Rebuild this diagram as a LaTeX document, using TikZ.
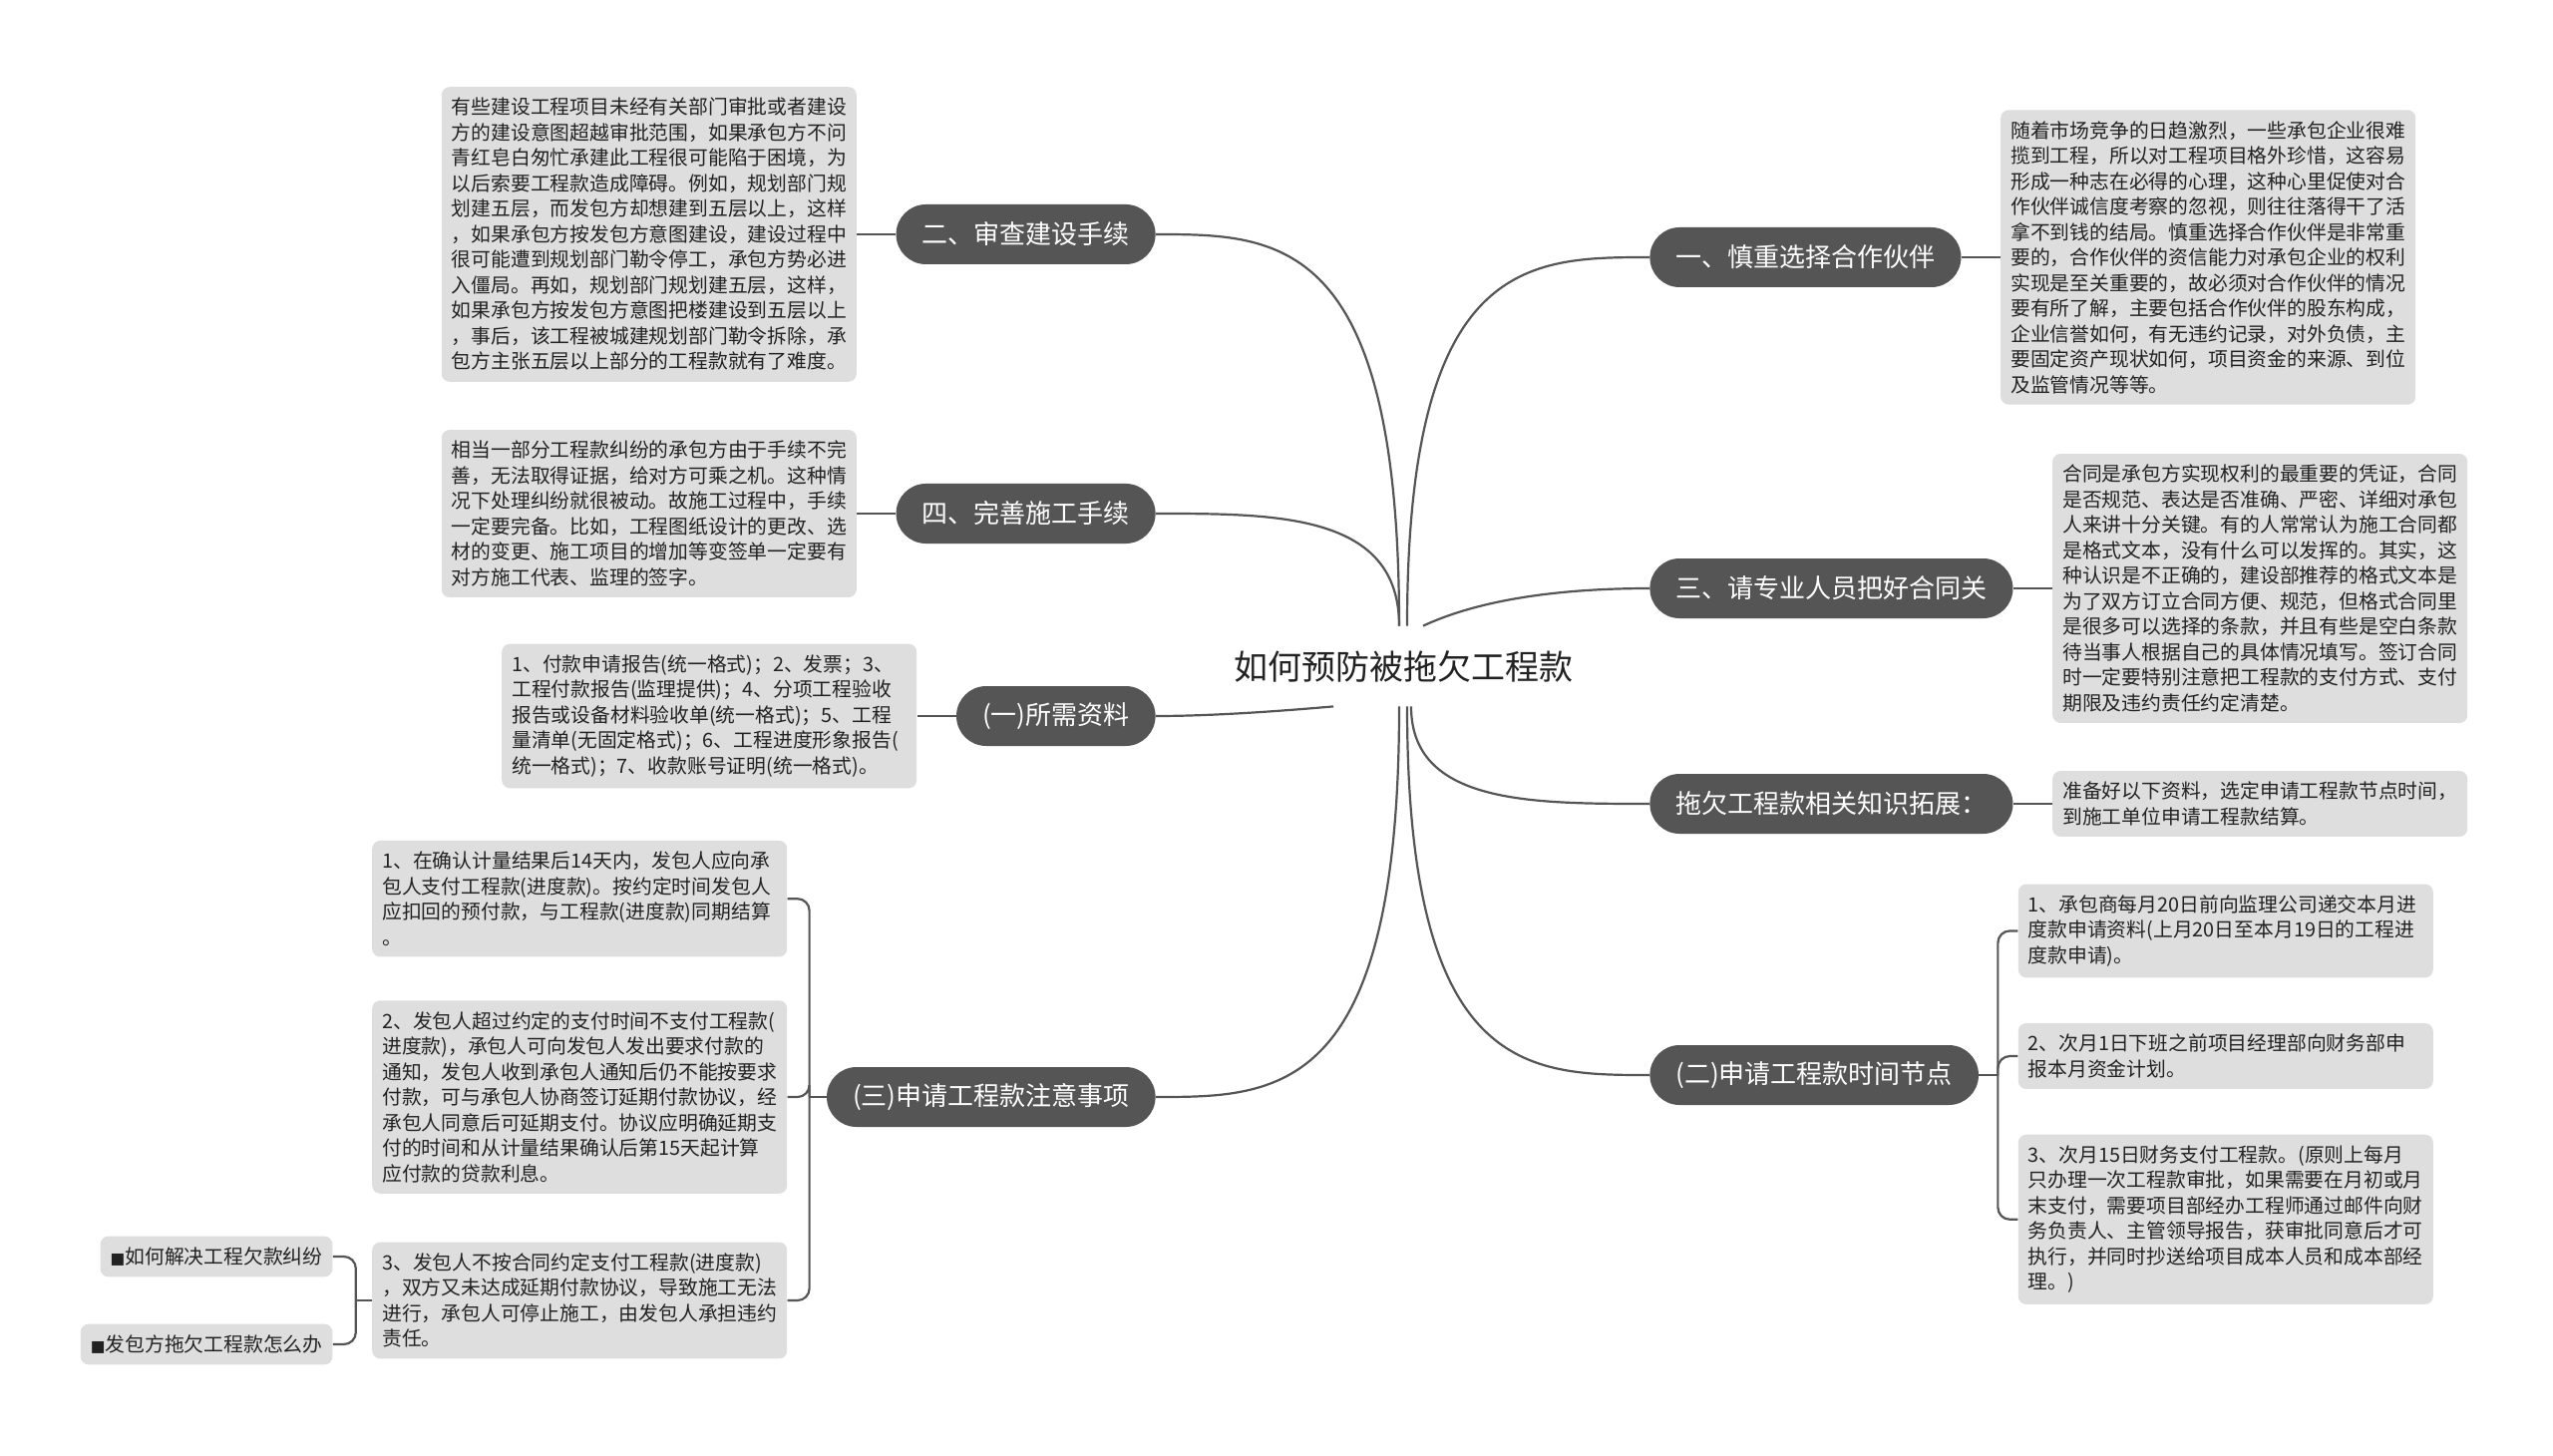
\documentclass[tikz,border=0pt]{standalone}
\usepackage{fontspec}
\setmainfont{Noto Sans CJK SC}
\newfontfamily\marksymfont{DejaVu Sans}
\usetikzlibrary{positioning,calc}
\definecolor{branchgray}{HTML}{555555}
\definecolor{leafgray}{HTML}{DEDEDE}
\definecolor{linegray}{HTML}{555555}
\definecolor{inkgray}{HTML}{222222}
\newcommand{\blackmark}{{\marksymfont\fontsize{7.8pt}{12.75pt}\selectfont ■}}

\begin{document}
\begin{tikzpicture}[x=0.5pt,y=-0.5pt,node distance=19.5pt,
  rootnode/.style={text=inkgray,font=\fontsize{17pt}{20pt}\selectfont,minimum height=40pt,inner xsep=8pt},
  branchnode/.style={fill=branchgray,text=white,rounded corners=14.9pt,minimum height=30pt,inner xsep=13pt,inner ysep=0pt,font=\fontsize{13pt}{15pt}\selectfont},
  leafnode/.style={fill=leafgray,text=inkgray,rounded corners=4pt,text width=198pt,align=left,inner xsep=5pt,inner ysep=5.5pt,font=\fontsize{9.9pt}{12.75pt}\selectfont},
  tagnode/.style={fill=leafgray,text=inkgray,rounded corners=4pt,inner xsep=5pt,inner ysep=5.5pt,font=\fontsize{9.9pt}{12.75pt}\selectfont},
  linkline/.style={draw=linegray,line width=1.1pt},
  bracketline/.style={linkline,rounded corners=6pt},
  limb/.style={to path={.. controls (\tikztostart |- \tikztotarget) and ($(\tikztostart |- \tikztotarget)!0.5!(\tikztotarget)$) .. (\tikztotarget)}}]
\fill[white] (0,0) rectangle (2560,1460);
\useasboundingbox (0,0) rectangle (2560,1460);

\node[rootnode] (root) at (1407,668) {如何预防被拖欠工程款};
\coordinate (nw) at ([xshift=-2pt]root.north);
\coordinate (ne) at ([xshift=2pt]root.north);
\coordinate (ner) at ([xshift=10pt]root.north);
\coordinate (sw) at ([xshift=-2pt]root.south);
\coordinate (swl) at ([xshift=-35pt]root.south);
\coordinate (se) at ([xshift=2pt]root.south);
\coordinate (ser) at ([xshift=4pt]root.south);

\node[branchnode,anchor=west] (sel) at (1654,258) {一、慎重选择合作伙伴};
\node[branchnode,anchor=west] (con) at (1654,590) {三、请专业人员把好合同关};
\node[branchnode,anchor=west] (ext) at (1654,806) {拖欠工程款相关知识拓展：};
\node[branchnode,anchor=west] (tim) at (1654,1078) {(二)申请工程款时间节点};
\node[branchnode,anchor=east] (chk) at (1159,235) {二、审查建设手续};
\node[branchnode,anchor=east] (imp) at (1159,515) {四、完善施工手续};
\node[branchnode,anchor=east] (doc) at (1159,718) {(一)所需资料};
\node[branchnode,anchor=east] (att) at (1159,1100) {(三)申请工程款注意事项};

\draw[linkline] (nw) to[limb] (chk.east);
\draw[linkline] (nw) to[limb] (imp.east);
\draw[linkline] (ne) to[limb] (sel.west);
\draw[linkline] (ner) to[out=25,in=180,looseness=0.8] (con.west);
\draw[linkline] (swl) to[out=185,in=0,looseness=0.8] (doc.east);
\draw[linkline] (sw) to[limb] (att.east);
\draw[linkline] (se) to[limb] (tim.west);
\draw[linkline] (ser) to[limb] (ext.west);

\node[leafnode,right=of sel] (seltxt) {随着市场竞争的日趋激烈，一些承包企业很难\\
揽到工程，所以对工程项目格外珍惜，这容易\\
形成一种志在必得的心理，这种心里促使对合\\
作伙伴诚信度考察的忽视，则往往落得干了活\\
拿不到钱的结局。慎重选择合作伙伴是非常重\\
要的，合作伙伴的资信能力对承包企业的权利\\
实现是至关重要的，故必须对合作伙伴的情况\\
要有所了解，主要包括合作伙伴的股东构成，\\
企业信誉如何，有无违约记录，对外负债，主\\
要固定资产现状如何，项目资金的来源、到位\\
及监管情况等等。};
\node[leafnode,right=of con] (contxt) {合同是承包方实现权利的最重要的凭证，合同\\
是否规范、表达是否准确、严密、详细对承包\\
人来讲十分关键。有的人常常认为施工合同都\\
是格式文本，没有什么可以发挥的。其实，这\\
种认识是不正确的，建设部推荐的格式文本是\\
为了双方订立合同方便、规范，但格式合同里\\
是很多可以选择的条款，并且有些是空白条款\\
待当事人根据自己的具体情况填写。签订合同\\
时一定要特别注意把工程款的支付方式、支付\\
期限及违约责任约定清楚。};
\node[leafnode,right=of ext] (exttxt) {准备好以下资料，选定申请工程款节点时间，\\
到施工单位申请工程款结算。};
\node[leafnode,right=of tim,yshift=9.5pt] (timb) {2、次月1日下班之前项目经理部向财务部申\\
报本月资金计划。};
\node[leafnode,above=22.5pt of timb] (tima) {1、承包商每月20日前向监理公司递交本月进\\
度款申请资料(上月20日至本月19日的工程进\\
度款申请)。};
\node[leafnode,below=22.5pt of timb] (timc) {3、次月15日财务支付工程款。(原则上每月\\
只办理一次工程款审批，如果需要在月初或月\\
末支付，需要项目部经办工程师通过邮件向财\\
务负责人、主管领导报告，获审批同意后才可\\
执行，并同时抄送给项目成本人员和成本部经\\
理。)};

\node[leafnode,left=of chk] (chktxt) {有些建设工程项目未经有关部门审批或者建设\\
方的建设意图超越审批范围，如果承包方不问\\
青红皂白匆忙承建此工程很可能陷于困境，为\\
以后索要工程款造成障碍。例如，规划部门规\\
划建五层，而发包方却想建到五层以上，这样\\
，如果承包方按发包方意图建设，建设过程中\\
很可能遭到规划部门勒令停工，承包方势必进\\
入僵局。再如，规划部门规划建五层，这样，\\
如果承包方按发包方意图把楼建设到五层以上\\
，事后，该工程被城建规划部门勒令拆除，承\\
包方主张五层以上部分的工程款就有了难度。};
\node[leafnode,left=of imp] (imptxt) {相当一部分工程款纠纷的承包方由于手续不完\\
善，无法取得证据，给对方可乘之机。这种情\\
况下处理纠纷就很被动。故施工过程中，手续\\
一定要完备。比如，工程图纸设计的更改、选\\
材的变更、施工项目的增加等变签单一定要有\\
对方施工代表、监理的签字。};
\node[leafnode,left=of doc] (doctxt) {1、付款申请报告(统一格式)；2、发票；3、\\
工程付款报告(监理提供)；4、分项工程验收\\
报告或设备材料验收单(统一格式)；5、工程\\
量清单(无固定格式)；6、工程进度形象报告(\\
统一格式)；7、收款账号证明(统一格式)。};
\node[leafnode,left=of att] (attb) {2、发包人超过约定的支付时间不支付工程款(\\
进度款)，承包人可向发包人发出要求付款的\\
通知，发包人收到承包人通知后仍不能按要求\\
付款，可与承包人协商签订延期付款协议，经\\
承包人同意后可延期支付。协议应明确延期支\\
付的时间和从计量结果确认后第15天起计算\\
应付款的贷款利息。};
\node[leafnode,above=21.5pt of attb] (atta) {1、在确认计量结果后14天内，发包人应向承\\
包人支付工程款(进度款)。按约定时间发包人\\
应扣回的预付款，与工程款(进度款)同期结算\\
。};
\node[leafnode,below=24pt of attb] (attc) {3、发包人不按合同约定支付工程款(进度款)\\
，双方又未达成延期付款协议，导致施工无法\\
进行，承包人可停止施工，由发包人承担违约\\
责任。};
\node[tagnode,left=of attc,yshift=22pt] (taga) {\blackmark 如何解决工程欠款纠纷};
\node[tagnode,left=of attc,yshift=-22pt] (tagb) {\blackmark 发包方拖欠工程款怎么办};

\draw[linkline] (sel.east) -- (seltxt.west);
\draw[linkline] (con.east) -- (contxt.west);
\draw[linkline] (ext.east) -- (exttxt.west);
\draw[linkline] (chk.west) -- (chktxt.east);
\draw[linkline] (imp.west) -- (imptxt.east);
\draw[linkline] (doc.west) -- (doctxt.east);

\coordinate (timj) at ([xshift=9.5pt]tim.east);
\draw[linkline] (tim.east) -- (timj);
\draw[bracketline] (timj) |- (tima.west);
\draw[bracketline] (timj) |- (timb.west);
\draw[bracketline] (timj) |- (timc.west);

\coordinate (attj) at ([xshift=-8.5pt]att.west);
\draw[linkline] (att.west) -- (attj);
\draw[bracketline] (attj) |- (atta.east);
\draw[bracketline] (attj) |- (attb.east);
\draw[bracketline] (attj) |- (attc.east);

\coordinate (tagj) at ([xshift=-8pt]attc.west);
\draw[linkline] (attc.west) -- (tagj);
\draw[bracketline] (tagj) |- (taga.east);
\draw[bracketline] (tagj) |- (tagb.east);
\end{tikzpicture}
\end{document}
